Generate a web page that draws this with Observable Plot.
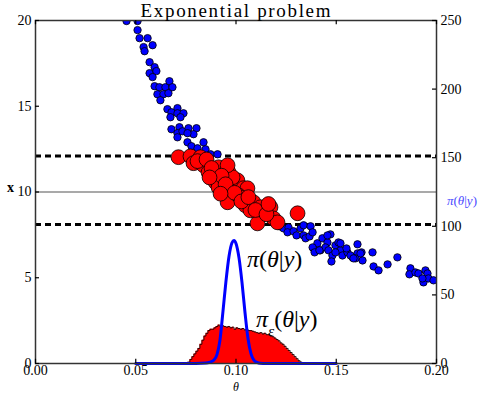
<!DOCTYPE html>
<html><head><meta charset="utf-8">
<script src="https://cdn.jsdelivr.net/npm/d3@7"></script>
<script src="https://cdn.jsdelivr.net/npm/@observablehq/plot@0.6"></script>
<style>body{margin:0;background:#fff;} svg{display:block;} svg text{font-family:'Liberation Serif','DejaVu Serif',serif !important;}</style>
</head><body><div id="chart"></div>
<script>
// Blue simulated points (theta, x)
const thetaBlue = [0.0454,0.0509,0.0509,0.0519,0.0559,0.0539,0.0544,0.0584,0.0569,0.0594,0.0569,0.0603,0.0584,0.0594,0.0618,0.0648,0.0668,0.0683,0.0608,0.0638,0.0623,0.0663,0.0658,0.0678,0.0708,0.0673,0.0708,0.0738,0.0723,0.0678,0.0718,0.0708,0.0733,0.0763,0.0803,0.0788,0.0758,0.0708,0.0758,0.0778,0.0808,0.0838,0.0848,0.0873,0.0908,
0.1217,0.1237,0.1262,0.1257,0.1287,0.1302,0.1322,0.1337,0.1337,0.1347,0.1372,0.1367,0.1382,0.1387,0.1406,0.1421,0.1431,0.1456,0.1471,0.1446,0.1461,0.1481,0.1496,0.1511,0.1521,0.1531,0.1476,0.1556,0.1551,0.1581,0.1606,0.1606,0.1631,0.1596,0.1626,0.1681,0.1686,0.1711,0.1756,0.1805,0.1870,0.1865,0.1895,0.1910,0.1945,0.1955,0.1935,0.1960,0.1985,0.1930,0.1382,0.1392,0.1416,0.1456,0.1496,0.1521,0.1571,0.1586,0.1621];
const xBlue = [19.97,19.97,19.44,18.97,18.97,18.45,18.21,18.56,17.57,17.28,16.93,17.05,16.70,16.17,16.11,16.11,16.46,16.11,15.70,15.70,15.35,15.76,14.83,14.65,14.89,14.36,14.59,14.59,14.36,13.66,13.78,13.43,13.54,13.72,13.72,13.37,13.43,13.19,12.90,12.67,12.55,12.90,12.49,12.20,12.20,
8.00,7.88,7.94,7.65,7.71,7.47,7.88,8.06,7.47,7.30,8.00,7.41,7.65,6.71,7.01,6.60,7.30,7.06,7.53,6.77,6.60,6.30,6.89,7.06,6.60,6.30,5.95,6.48,6.71,6.19,6.42,6.95,6.01,6.13,6.48,6.48,5.66,5.43,5.78,6.19,5.55,5.20,5.31,5.25,5.43,5.25,4.73,4.96,4.85,4.96,6.77,6.48,6.60,7.47,6.48,7.01,6.30,6.13,6.42];
// Red accepted points (theta, x)
const thetaRed = [0.0713,0.0773,0.0823,0.0788,0.0838,0.0863,0.0913,0.0888,0.0963,0.0938,0.0898,0.0913,0.0973,0.1007,0.0983,0.1037,0.1057,0.0958,0.1012,0.1022,0.1047,0.1087,0.1072,0.1122,0.1137,0.1172,0.1187,0.1107,0.1207,0.1307,0.0958,
  0.0808,0.0853,0.0878,0.0928,0.0948,0.0993,0.1027,0.1062,0.1097,0.1152,0.1162,0.0868,0.0923];
const xRed = [12.03,12.08,12.03,11.68,11.56,11.15,11.44,11.09,11.15,10.80,10.57,10.27,10.10,10.68,10.86,10.22,10.22,9.40,9.81,9.69,9.22,9.40,8.93,9.11,8.81,9.11,8.46,8.17,8.23,8.76,11.56,
  11.80,11.90,11.40,10.95,10.45,9.95,9.45,9.70,8.95,8.70,9.30,10.85,9.90];
// True posterior pi(theta|y) (right axis units)
const thetaCurve = [0.050,0.080,0.085,0.087,0.089,0.0905,0.092,0.0935,0.095,0.0965,0.098,0.099,0.100,0.1015,0.103,0.1045,0.106,0.1075,0.109,0.1105,0.112,0.115,0.150];
const densCurve  = [0,0,0.3,1.0,2.5,6.5,17,38,60,78,88,89.7,87.5,77,59,37,18,7,2.3,0.8,0.2,0,0];
// ABC posterior histogram pi_eps(theta|y) (right axis units)
const thetaHist = [0.076,0.077,0.078,0.079,0.080,0.081,0.082,0.083,0.084,0.085,0.086,0.087,0.088,0.089,0.090,0.091,0.092,0.093,0.094,0.095,0.096,0.097,0.098,0.099,0.100,0.101,0.102,0.103,0.104,0.105,0.106,0.107,0.108,0.109,0.110,0.111,0.112,0.113,0.114,0.115,0.116,0.117,0.118,0.119,0.120,0.121,0.122,0.123,0.124,0.125,0.126,0.127,0.128,0.129,0.130,0.131,0.132,0.133];
const densHist  = [1,3,5,7,9,11,14,17,20,22,24,25,25,26,27,28,27,27.5,27,26.5,27,26,26.5,25,26,25.5,25,25.5,24.5,25,24,24,23.5,23,22.5,22,22.5,21.5,22,21,21,20,19.5,18.5,17.5,16.5,15,14,12.5,11,9.5,8,6.5,5,3.5,2,1,0];
// Reference lines
const observed = [10];
const tolerance = [8.1, 12.1];
// Ticks
const xTicks = [0, 0.05, 0.10, 0.15, 0.20];
const yLeftTicks = [0, 5, 10, 15, 20];
const yRightTicks = [0, 50, 100, 150, 200, 250];
const leftMax = 20, rightMax = 250;
const k = leftMax / rightMax;

const blue = thetaBlue.map((t, i) => ({t, x: xBlue[i]}));
const red = thetaRed.map((t, i) => ({t, x: xRed[i]}));
const curve = thetaCurve.map((t, i) => ({t, d: densCurve[i] * k}));
const hist = thetaHist.map((t, i) => ({t, d: densHist[i] * k}));

const serif = "'Liberation Serif', 'DejaVu Serif', serif";
const plot = Plot.plot({
  width: 488, height: 393,
  marginLeft: 35, marginRight: 52, marginTop: 20, marginBottom: 30,
  x: {domain: [0, 0.2]},
  y: {domain: [0, leftMax]},
  style: {fontFamily: serif, fontSize: "14px", background: "white", color: "black"},
  marks: [
    Plot.ruleY(observed, {stroke: "#555", strokeWidth: 1.2}),
    Plot.ruleY(tolerance, {stroke: "black", strokeWidth: 3, strokeDasharray: "6,4"}),
    Plot.areaY(hist, {x: "t", y: "d", curve: "step-after", fill: "#ff0000"}),
    Plot.line(hist, {x: "t", y: "d", curve: "step-after", stroke: "black", strokeWidth: 0.8}),
    Plot.line(curve, {x: "t", y: "d", curve: "monotone-x", stroke: "#0000ff", strokeWidth: 3}),
    Plot.dot(blue, {x: "t", y: "x", r: 3.7, fill: "#0000ff", stroke: "black", strokeWidth: 0.8, clip: true}),
    Plot.dot(red, {x: "t", y: "x", r: 7.4, fill: "#ff0000", stroke: "black", strokeWidth: 0.8, clip: true}),
    Plot.frame({stroke: "#333", strokeWidth: 1.5}),
    Plot.ruleX(xTicks, {x: d => d, y1: 0, y2: 0.25, stroke: "black", strokeWidth: 1.2}),
    Plot.ruleX(xTicks, {x: d => d, y1: leftMax, y2: leftMax - 0.25, stroke: "black", strokeWidth: 1.2}),
    Plot.ruleY(yLeftTicks, {y: d => d, x1: 0, x2: 0.002, stroke: "black", strokeWidth: 1.2}),
    Plot.ruleY(yRightTicks.map(v => v * k), {y: d => d, x1: 0.2, x2: 0.198, stroke: "black", strokeWidth: 1.2}),
    Plot.axisX({ticks: xTicks, tickSize: 0, tickPadding: 2, tickFormat: d3.format(".2f"), label: null}),
    Plot.axisY({ticks: yLeftTicks, tickSize: 0, tickPadding: 4, label: null}),
    Plot.axisY({anchor: "right", ticks: yRightTicks.map(v => v * k), tickSize: 0, tickPadding: 4, tickFormat: v => Math.round(v / k), label: null})
  ]
});
document.getElementById("chart").appendChild(plot);

const svg = d3.select(plot);
function mathText(x, y, size, parts, color) {
  const t = svg.append("text").attr("x", x).attr("y", y).attr("text-anchor", "start")
    .attr("font-size", size).attr("fill", color || "black");
  parts.forEach(p => {
    const s = t.append("tspan").text(p.s);
    if (p.i) s.attr("font-style", "italic");
    if (p.sub) s.attr("font-size", size * 0.65).attr("baseline-shift", "sub");
  });
  return t;
}
svg.append("text").attr("x", 235.5).attr("y", 17).attr("text-anchor", "middle")
  .attr("font-size", 19).attr("textLength", 190).attr("lengthAdjust", "spacing").text("Exponential problem");
svg.append("text").attr("x", 7).attr("y", 192).attr("text-anchor", "start")
  .attr("font-weight", "bold").attr("font-size", 14).text("x");
svg.append("text").attr("x", 236).attr("y", 391).attr("text-anchor", "middle")
  .attr("font-style", "italic").attr("font-size", 12).text("θ");
mathText(447, 205, 13, [{s: "π", i: 1}, {s: "("}, {s: "θ", i: 1}, {s: "|"}, {s: "y", i: 1}, {s: ")"}], "#4a4aff");
mathText(247, 267, 24, [{s: "π", i: 1}, {s: "("}, {s: "θ", i: 1}, {s: "|"}, {s: "y", i: 1}, {s: ")"}]);
mathText(256, 327, 24, [{s: "π", i: 1}, {s: "ε", i: 1, sub: 1}, {s: "("}, {s: "θ", i: 1}, {s: "|"}, {s: "y", i: 1}, {s: ")"}]);
</script></body></html>
